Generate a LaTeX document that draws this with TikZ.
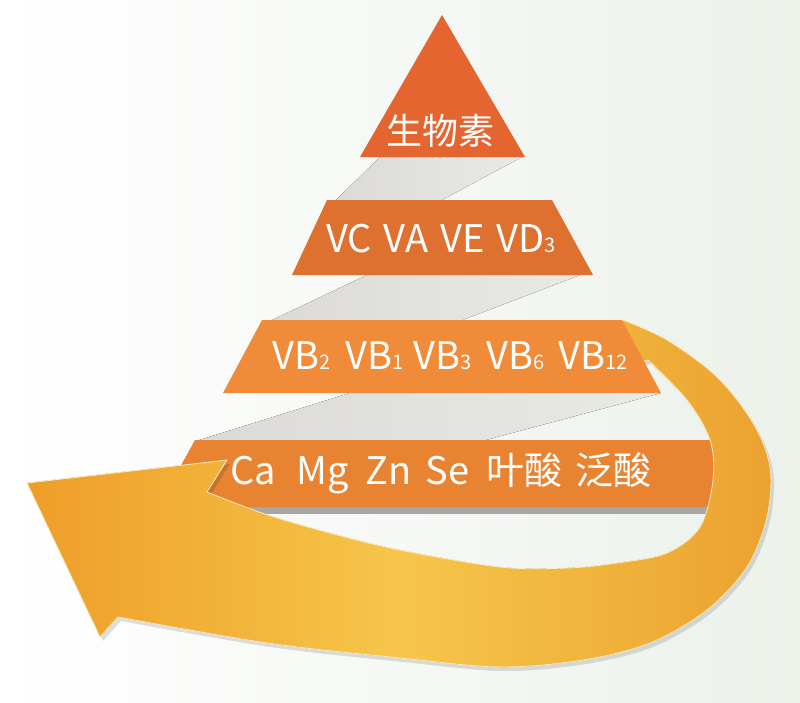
\documentclass[tikz,border=0pt]{standalone}
\usepackage{fontspec}
\setmainfont{Noto Sans CJK SC}
\definecolor{tierA}{RGB}{229,101,48}
\definecolor{tierB}{RGB}{222,113,48}
\definecolor{tierC}{RGB}{240,139,57}
\definecolor{tierD}{RGB}{232,131,49}
\definecolor{bandgray}{RGB}{220,218,215}
\definecolor{bandlight}{RGB}{232,234,229}
\definecolor{arrL}{RGB}{238,158,40}
\definecolor{arrM}{RGB}{246,198,74}
\definecolor{arrR}{RGB}{236,162,48}
\definecolor{bgR}{RGB}{236,241,234}
\newcommand{\subdig}[1]{{\fontsize{20pt}{20pt}\selectfont #1}}
\tikzset{
  band/.style={left color=bandgray, right color=bandlight, draw=none},
  tiertext/.style={text=white, inner sep=0pt, font=\fontsize{38pt}{38pt}\selectfont}
}
\begin{document}
\begin{tikzpicture}[x=1pt,y=-1pt]
\useasboundingbox (0,0) rectangle (800,702);
% background
\fill[left color=white, right color=bgR] (0,0) rectangle (800,702);
% gray bands
\fill[band] (380,157) -- (522,157) -- (440,201) -- (335,201) -- cycle;
\fill[band] (367,275) -- (580,275) -- (460,321) -- (270,321) -- cycle;
\fill[band] (350,393) -- (661,393) -- (482,441) -- (196,441) -- cycle;
% bottom tier and its shadow
\fill[gray!70] (150,505) rectangle (745,514);
\fill[tierD] (195,440) -- (722,440) -- (745,507) -- (158,507) -- cycle;
% arrow shadow
\fill[black, opacity=0.12, shift={(3,4)}]
  (600,345) -- plot[smooth,tension=0.55] coordinates {(623,320) (667,340) (717,377) (753,423) (770,467) (767,517) (747,567) (707,610) (650,643) (583,660) (500,667) (400,658) (267,643) (118,617)}
  -- (100,637) -- (27,483) -- (227,460) -- (207,492)
  -- plot[smooth,tension=0.55] coordinates {(207,492) (265,514) (330,533) (400,550) (500,567) (567,568) (617,563) (667,553) (700,527) (713,480) (710,440) (687,400) (648,360)}
  -- (620,365) -- cycle;
% arrow
\fill[left color=arrL, right color=arrR, middle color=arrM, draw=white!70!arrM, line width=0.8pt]
  (600,345) -- plot[smooth,tension=0.55] coordinates {(623,320) (667,340) (717,377) (753,423) (770,467) (767,517) (747,567) (707,610) (650,643) (583,660) (500,667) (400,658) (267,643) (118,617)}
  -- (100,637) -- (27,483) -- (227,460) -- (207,492)
  -- plot[smooth,tension=0.55] coordinates {(207,492) (265,514) (330,533) (400,550) (500,567) (567,568) (617,563) (667,553) (700,527) (713,480) (710,440) (687,400) (648,360)}
  -- (620,365) -- cycle;
% upper tiers
\fill[tierC] (262,320) -- (622,320) -- (661,393) -- (223,393) -- cycle;
\fill[tierB] (327,200) -- (552,200) -- (593,275) -- (292,275) -- cycle;
\fill[tierA] (442,15) -- (525,157) -- (360,157) -- cycle;
% texts
\node[tiertext, font=\fontsize{36pt}{36pt}\selectfont] (t1) at (440,131) {生物素};
\node[tiertext, anchor=base] (t2) at (441,252) {\spaceskip=12pt\relax VC VA VE VD\subdig{3}};
\node[tiertext, anchor=base] (t3) at (450,369) {VB\subdig{2}\hspace{15pt}VB\subdig{1}\hspace{10pt}VB\subdig{3}\hspace{15pt}VB\subdig{6}\hspace{14pt}VB\subdig{12}};
\node[tiertext, anchor=base] (t4) at (441,484) {Ca\hspace{20pt}Mg\hspace{17pt}Zn\hspace{14pt}Se\hspace{17pt}叶酸\hspace{13pt}泛酸};
\end{tikzpicture}
\end{document}
